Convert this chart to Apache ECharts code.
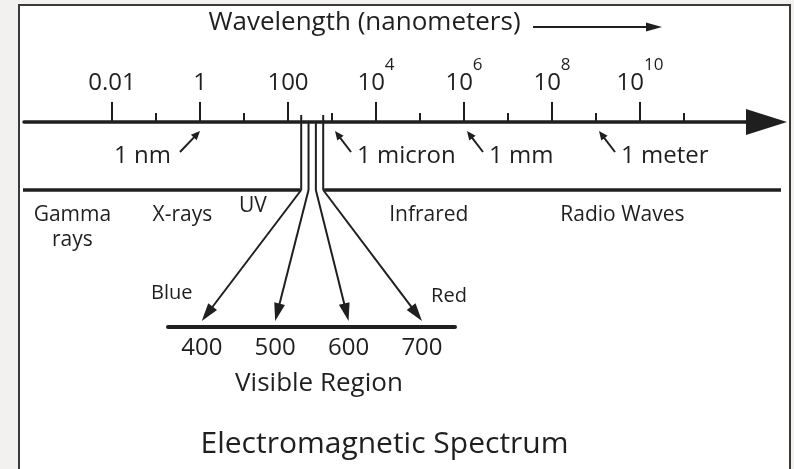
<!DOCTYPE html>
<html><head><meta charset="utf-8">
<script src="https://cdn.jsdelivr.net/npm/echarts@6/dist/echarts.min.js"></script>
<style>
html,body{margin:0;padding:0;background:#f2f1ef;width:794px;height:469px;overflow:hidden}
#frame{position:absolute;left:18px;top:4px;width:773px;height:480px;border:2px solid #3a3a3a;background:#fff;box-sizing:border-box}
#chart{position:absolute;left:0;top:0;width:794px;height:469px}
</style></head><body><div id="frame"></div><div id="chart"></div>
<script>
// ---- data ----
const majorExponents = [-2, 0, 2, 4, 6, 8, 10];          // log10(wavelength / nm)
const majorLabels = ['0.01', '1', '100', '10^4', '10^6', '10^8', '10^10'];
const minorExponents = [-1, 1, 3, 5, 7, 9, 11];
const landmarkNames = ['1 nm', '1 micron', '1 mm', '1 meter'];
const landmarkExponents = [0, 3, 6, 9];
const landmarkSide = ['left', 'right', 'right', 'right'];
const regionNames = ['Gamma\nrays', 'X-rays', 'UV', 'Infrared', 'Radio Waves'];
const regionExponents = [-2.9, -0.4, 1.2, 5.2, 9.6];
const visibleTicks = [400, 500, 600, 700];                // nm
const visibleColorNames = ['Blue', 'Red'];
const visibleColorAt = [400, 700];
const visibleBandExponents = [2.3, 2.8];                  // schematic band on the log axis

// ---- style ----
const FONT = '"Open Sans", "Noto Sans", sans-serif';
const INK = '#1f1f1f';

const chart = echarts.init(document.getElementById('chart'));

function tickLabel(v) {
  const i = majorExponents.indexOf(Math.round(v));
  const lab = majorLabels[i] || '';
  if (lab.indexOf('^') >= 0) {
    const p = lab.split('^');
    return '{b|' + p[0] + '}{s|' + p[1] + '}';
  }
  return '{b|' + lab + '}';
}

const option = {
  animation: false,
  grid: [
    { left: 24, width: 742.5, top: 122, height: 20, outerBoundsMode: 'none' },
    { left: 168, width: 287, top: 300, height: 27, outerBoundsMode: 'none' }
  ],
  xAxis: [
    {
      gridIndex: 0, type: 'value', position: 'top', min: -4, max: 12.875,
      axisLine: { show: true, onZero: false, lineStyle: { color: INK, width: 3.5 }, symbol: ['none', 'triangle'], symbolSize: [26, 41] },
      axisTick: { show: true, customValues: majorExponents, length: 20, lineStyle: { color: INK, width: 2 } },
      axisLabel: {
        show: true, customValues: majorExponents, margin: 27, formatter: tickLabel,
        rich: {
          b: { fontSize: 24, fontFamily: FONT, color: INK, lineHeight: 28, verticalAlign: 'bottom' },
          s: { fontSize: 17, fontFamily: FONT, color: INK, padding: [0, 0, 21, 0], verticalAlign: 'bottom' }
        }
      },
      splitLine: { show: false }
    },
    {
      gridIndex: 0, type: 'value', position: 'top', min: -4, max: 12.875,
      axisLine: { show: false, onZero: false },
      axisTick: { show: true, customValues: minorExponents, length: 9, lineStyle: { color: INK, width: 2 } },
      axisLabel: { show: false }, splitLine: { show: false }
    },
    {
      gridIndex: 1, type: 'value', position: 'bottom', min: 354, max: 745,
      axisLine: { show: true, onZero: false, lineStyle: { color: INK, width: 4 } },
      axisTick: { show: false },
      axisLabel: { show: true, customValues: visibleTicks, margin: 9, fontSize: 24, fontFamily: FONT, color: INK },
      splitLine: { show: false },
      name: 'Visible Region', nameLocation: 'middle', nameGap: 44,
      nameTextStyle: { fontSize: 26, fontFamily: FONT, color: INK, padding: [0, 0, 0, 15] }
    }
  ],
  yAxis: [
    { gridIndex: 0, show: false, type: 'value', min: 0, max: 1 },
    { gridIndex: 1, show: false, type: 'value', min: 0, max: 1 }
  ],
  series: []
};
chart.setOption(option);

// ---- diagram graphics positioned through the axes ----
const X = v => chart.convertToPixel({ xAxisIndex: 0 }, v);
const XV = v => chart.convertToPixel({ xAxisIndex: 2 }, v);
const els = [];
function line(x1, y1, x2, y2, w) {
  els.push({ type: 'line', shape: { x1, y1, x2, y2 }, style: { stroke: INK, lineWidth: w || 2 }, silent: true });
}
function arrow(x1, y1, x2, y2, len, half, w) {
  const dx = x2 - x1, dy = y2 - y1, L = Math.hypot(dx, dy), ux = dx / L, uy = dy / L;
  const bx = x2 - ux * len, by = y2 - uy * len;
  line(x1, y1, bx + ux * 2, by + uy * 2, w);
  els.push({ type: 'polygon', shape: { points: [[x2, y2], [bx - uy * half, by + ux * half], [bx + uy * half, by - ux * half]] }, style: { fill: INK }, silent: true });
}
function text(t, x, y, size, align, extra) {
  els.push({ type: 'text', silent: true, style: Object.assign({ text: t, x, y, fill: INK, fontSize: size, fontFamily: FONT, align: align || 'center', verticalAlign: 'middle' }, extra || {}) });
}

// axis title with arrow
text('Wavelength (nanometers)', 364.5, 23, 26);
arrow(533, 27, 662, 27, 16, 4.5, 2);

// landmarks
landmarkExponents.forEach((e, i) => {
  const left = landmarkSide[i] === 'left';
  const tipX = X(e) + (left ? 0 : 3);
  const tailX = tipX + (left ? -20 : 16);
  arrow(tailX, 152, tipX, 131, 9, 4, 2);
  text(landmarkNames[i], left ? tailX - 9 : tailX + 6, 156, 24, left ? 'right' : 'left');
});

// lower separator line and visible band
const b0 = X(visibleBandExponents[0]), b1 = X(visibleBandExponents[1]);
const bandX = visibleTicks.map((t, i) => b0 + (b1 - b0) * i / (visibleTicks.length - 1));
line(23, 190, b0 - 1, 190, 3.5);
line(b1 + 1, 190, 781, 190, 3.5);
bandX.forEach((bx, i) => {
  const outer = i === 0 || i === bandX.length - 1;
  line(bx, outer ? 115 : 122, bx, 190, 2);
  arrow(bx, 190, XV(visibleTicks[i]), 321, 18, 5.5, 2);
});

// regions
regionNames.forEach((n, i) => {
  const multi = n.indexOf('\n') >= 0;
  const y = n === 'UV' ? 206.5 : (multi ? 228 : 215.5);
  text(n, X(regionExponents[i]), y, 21, 'center', multi ? { lineHeight: 25 } : null);
});

// colour names
text(visibleColorNames[0], XV(visibleColorAt[0]) - 30, 293, 20);
text(visibleColorNames[1], XV(visibleColorAt[1]) + 27, 296.5, 20);

// bottom title
text('Electromagnetic Spectrum', 384.5, 444.5, 30);

chart.setOption({ graphic: { elements: els } });
</script></body></html>
